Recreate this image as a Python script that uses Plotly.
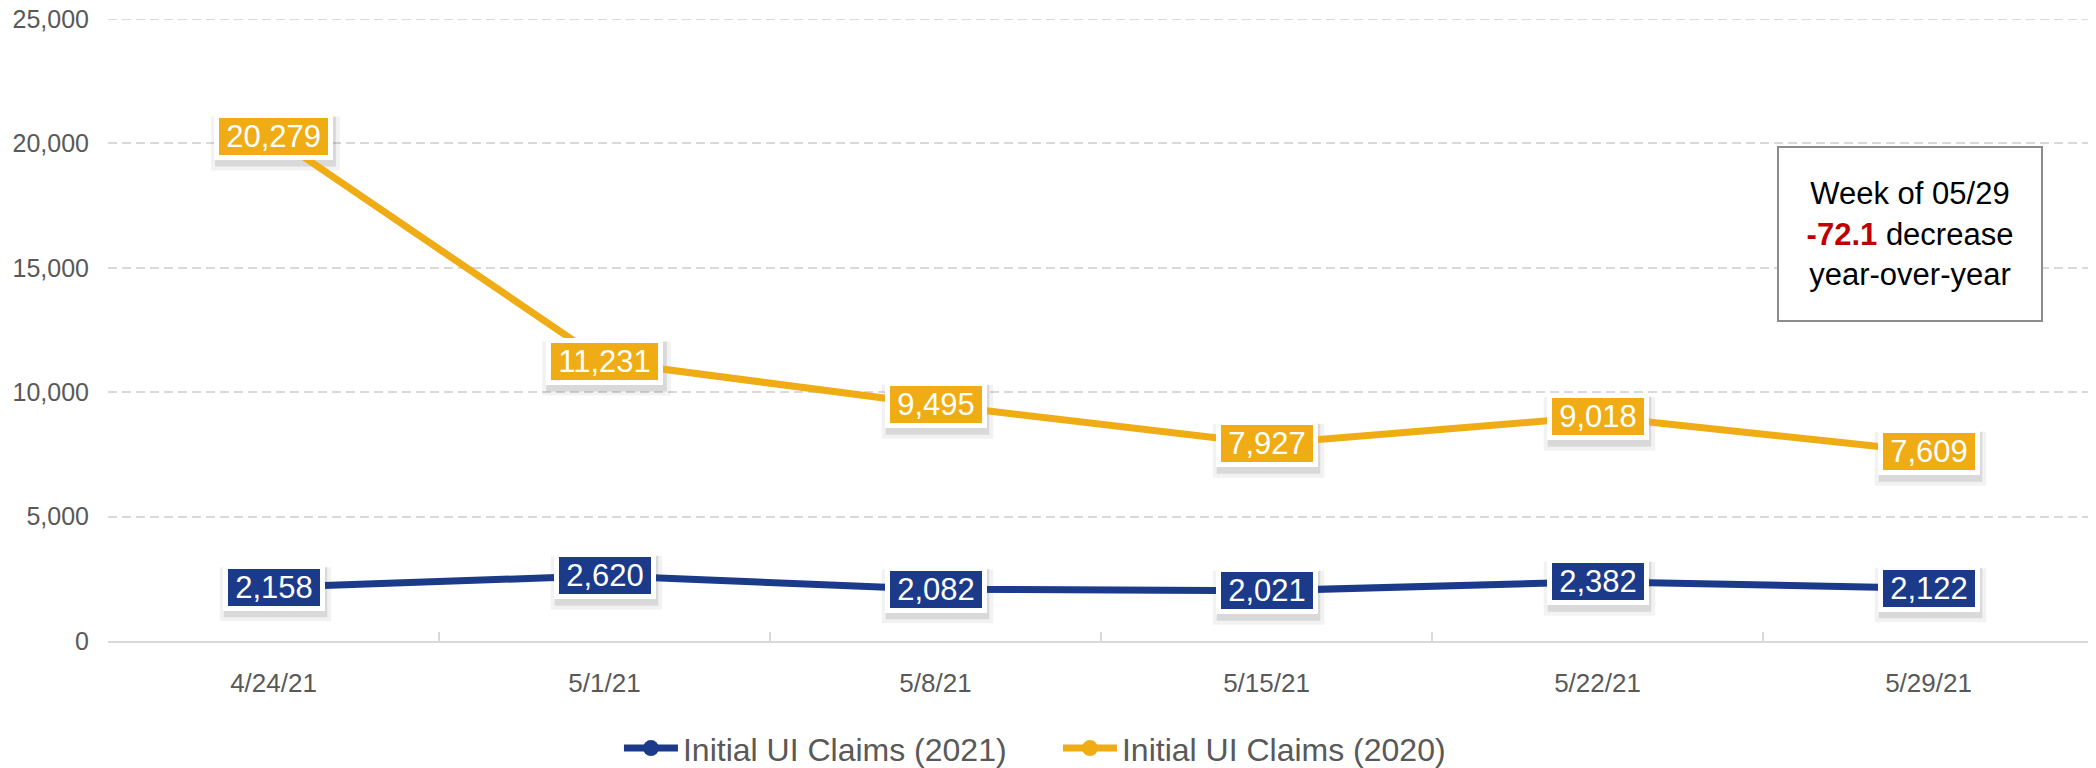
import plotly.graph_objects as go

# weekly initial UI claims
weeks = ["4/24/21", "5/1/21", "5/8/21", "5/15/21", "5/22/21", "5/29/21"]
claims_2021 = [2158, 2620, 2082, 2021, 2382, 2122]
claims_2020 = [20279, 11231, 9495, 7927, 9018, 7609]
y_ticks = [0, 5000, 10000, 15000, 20000, 25000]

BLUE = "#1B3A8A"
ORANGE = "#EFAC14"
GRID = "#D9D9D9"
FONT = "Liberation Sans, Arial, sans-serif"
LBL_SIZE = 31
THIN = "\u2009"

fig = go.Figure()

series = [("Initial UI Claims (2021)", claims_2021, BLUE),
          ("Initial UI Claims (2020)", claims_2020, ORANGE)]

for name, vals, col in series:
    fig.add_trace(go.Scatter(
        x=weeks, y=vals, name=name, mode="lines+markers",
        line=dict(color=col, width=7),
        marker=dict(color=col, size=16),
        hoverinfo="skip",
    ))

# plotly drops the gridline sitting on the top edge, so draw it explicitly
fig.add_hline(y=y_ticks[-1], line=dict(color=GRID, width=2, dash="9px,5px"), layer="below")


def label_width(txt):
    # rough Arial advance widths, used only to size the drop shadow
    em = sum(0.278 if c == "," else 0.556 for c in txt)
    return em * LBL_SIZE + 12 + 2 + 10


# data labels: white-bordered boxes with a soft shadow, centred on the points
for name, vals, col in series:
    for w, v in zip(weeks, vals):
        txt = f"{v:,}"
        bw = label_width(txt)
        bh = 48
        for grow, alpha in [(4, 0.05), (0, 0.10)]:
            fig.add_shape(type="rect", xref="x", yref="y",
                          xsizemode="pixel", ysizemode="pixel",
                          xanchor=w, yanchor=v,
                          x0=-bw / 2 + 1 - grow, x1=bw / 2 + 3 + grow,
                          y0=-bh / 2 - 6 - grow, y1=bh / 2 - 4,
                          line=dict(width=0), fillcolor=f"rgba(0,0,0,{alpha})",
                          layer="between")
        fig.add_annotation(x=w, y=v, text=THIN + txt + THIN, showarrow=False,
                           font=dict(family=FONT, size=LBL_SIZE, color="white"),
                           bgcolor=col, bordercolor="white",
                           borderwidth=5, borderpad=1)

# callout box
fig.add_annotation(
    xref="paper", yref="paper", x=0.9072, y=0.655,
    xanchor="center", yanchor="middle", showarrow=False,
    text="Week of 05/29<br><b><span style='color:#C00000'>-72.1</span></b> decrease<br>year-over-year",
    font=dict(family=FONT, size=31, color="black"),
    align="center", valign="middle",
    width=262, height=172, borderpad=0,
    bgcolor="white", bordercolor="#8C8C8C", borderwidth=2,
)

# page body has an 8px margin, so the figure is 8px smaller each way
fig.update_layout(
    width=2088, height=760,
    margin=dict(l=100, r=2, t=11, b=127, autoexpand=False),
    paper_bgcolor="white", plot_bgcolor="white",
    font=dict(family=FONT, color="#595959"),
    showlegend=True,
    legend=dict(orientation="h", xref="container", yref="container",
                x=0.2926, y=0.026, xanchor="left", yanchor="middle",
                font=dict(family=FONT, size=32, color="#595959"),
                itemwidth=54, entrywidth=370, entrywidthmode="pixels",
                tracegroupgap=0),
)

fig.update_xaxes(
    type="category", range=[-0.5, len(weeks) - 0.5],
    showgrid=False, zeroline=False, automargin=False,
    showline=True, linecolor=GRID, linewidth=2,
    ticks="inside", tickson="boundaries", ticklen=9, tickwidth=2, tickcolor=GRID,
    tickfont=dict(family=FONT, size=26, color="#595959"),
    ticklabelstandoff=18,
)

fig.update_yaxes(
    range=[0, 25000], tickvals=y_ticks, tickformat=",",
    showgrid=True, gridcolor=GRID, gridwidth=2, griddash="9px,5px",
    zeroline=False, showline=False, automargin=False,
    tickfont=dict(family=FONT, size=25, color="#595959"),
    ticklabelstandoff=18, ticklabeloverflow="allow",
)

fig.write_html("out.html")
